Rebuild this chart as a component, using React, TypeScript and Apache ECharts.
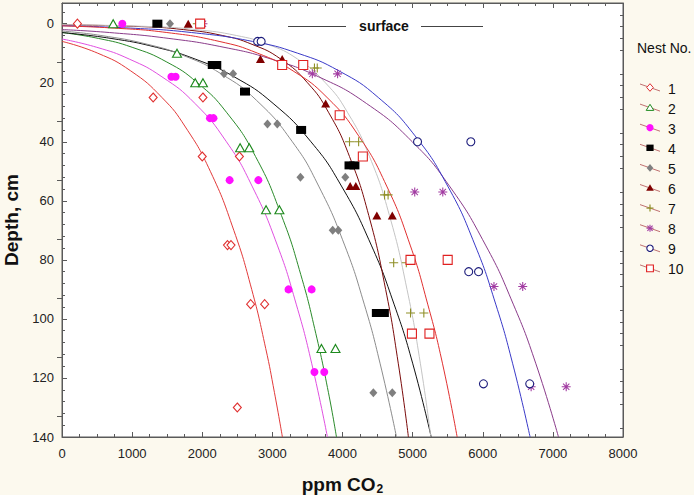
import React, { useEffect, useRef } from "react";
import * as echarts from "echarts";

const FONT = '"Liberation Sans", Arial, Helvetica, sans-serif';

const nestNames = ["1", "2", "3", "4", "5", "6", "7", "8", "9", "10"];
const lineColors = ["#e23a3a", "#2a8a2a", "#e050e0", "#111111", "#8c8c8c", "#7a0a0a", "#c4c4c4", "#8a3c8a", "#3a3ac8", "#e03030"];
const markerColors = ["#e03030", "#1e8a1e", "#ff10ff", "#000000", "#7f7f7f", "#800000", "#8f8f26", "#a23ca2", "#1c1c7c", "#e02020"];

// measured points (ppm CO2, depth cm)
const nest1Co2 = [220, 1300, 2010, 2000, 2530, 2360, 2410, 2690, 2890, 2500];
const nest1Depth = [0, 25, 25, 45, 45, 75, 75, 95, 95, 130];
const nest2Co2 = [730, 1640, 1900, 2010, 2540, 2670, 2910, 3100, 3700, 3900];
const nest2Depth = [0, 10, 20, 20, 42, 42, 63, 63, 110, 110];
const nest3Co2 = [860, 1560, 1620, 2110, 2160, 2390, 2800, 3230, 3560, 3600, 3740];
const nest3Depth = [0, 18, 18, 32, 32, 53, 53, 90, 90, 118, 118];
const nest4Co2 = [1360, 2150, 2200, 2610, 3410, 4100, 4170, 4490, 4590];
const nest4Depth = [0, 14, 14, 23, 36, 48, 48, 98, 98];
const nest5Co2 = [1540, 2310, 2440, 2930, 3070, 3400, 4040, 3860, 3940, 4440, 4710];
const nest5Depth = [0, 17, 17, 34, 34, 52, 52, 70, 70, 125, 125];
const nest6Co2 = [1800, 2830, 3140, 3760, 4110, 4190, 4490, 4710];
const nest6Depth = [0, 12, 12, 27, 55, 55, 65, 65];
const nest7Co2 = [1930, 3600, 3640, 4100, 4230, 4600, 4650, 4730, 4910, 4970, 5160];
const nest7Depth = [0, 15, 15, 40, 40, 58, 58, 81, 81, 98, 98];
const nest8Co2 = [2010, 3570, 3930, 5030, 5430, 6160, 6570, 6690, 7190];
const nest8Depth = [0, 17, 17, 57, 57, 89, 89, 123, 123];
const nest9Co2 = [2790, 2840, 5070, 5830, 5800, 5940, 6010, 6670];
const nest9Depth = [6, 6, 40, 40, 84, 84, 122, 122];
const nest10Co2 = [1970, 3140, 3440, 3960, 4290, 4970, 5500, 4990, 5240];
const nest10Depth = [0, 14, 14, 31, 45, 80, 80, 105, 105];

// fitted curves (ppm CO2, depth cm)
const curve1Co2 = [0, 510, 980, 1425, 1760, 2115, 2450, 2705, 2905, 3030, 3143];
const curve1Depth = [6, 10, 16, 25, 35, 50, 70, 90, 110, 125, 140];
const curve2Co2 = [0, 520, 1000, 1495, 1930, 2345, 2760, 3130, 3405, 3620, 3800, 3914];
const curve2Depth = [3, 5, 8, 13, 20, 30, 45, 65, 85, 105, 125, 140];
const curve3Co2 = [0, 495, 960, 1425, 1895, 2345, 2710, 3070, 3340, 3560, 3785];
const curve3Depth = [5.2, 8, 12, 18, 27, 40, 55, 75, 95, 115, 140];
const curve4Co2 = [0, 700, 1345, 1900, 2455, 3010, 3550, 3985, 4410, 4735, 5000, 5265];
const curve4Depth = [3, 5, 8, 12, 18, 27, 40, 55, 75, 95, 115, 140];
const curve5Co2 = [0, 555, 1220, 1755, 2270, 2775, 3285, 3660, 4030, 4310, 4535, 4770];
const curve5Depth = [2.5, 4, 7, 11, 17, 26, 40, 55, 75, 95, 115, 140];
const curve6Co2 = [0, 1130, 1730, 2285, 2710, 3120, 3500, 3800, 4100, 4375, 4615, 4795, 4940];
const curve6Depth = [0.4, 1, 2, 4, 7, 12, 20, 30, 45, 65, 90, 115, 140];
const curve7Co2 = [0, 1290, 1910, 2485, 2935, 3360, 3755, 4070, 4385, 4670, 4920, 5110, 5260];
const curve7Depth = [0.35, 1, 2, 4, 7, 12, 20, 30, 45, 65, 90, 115, 140];
const curve8Co2 = [0, 675, 1525, 2310, 2985, 3660, 4340, 4995, 5525, 6040, 6435, 6755, 7080];
const curve8Depth = [2, 3, 5, 8, 12, 18, 27, 40, 55, 75, 95, 115, 140];
const curve9Co2 = [0, 975, 1845, 2715, 3360, 3950, 4510, 5035, 5500, 5890, 6185, 6425, 6675];
const curve9Depth = [0.7, 1.5, 3, 6, 10, 16, 25, 38, 55, 75, 95, 115, 140];
const curve10Co2 = [0, 745, 1495, 2240, 2790, 3295, 3780, 4230, 4630, 4965, 5215, 5425, 5635];
const curve10Depth = [0.75, 1.5, 3, 6, 10, 16, 25, 38, 55, 75, 95, 115, 140];

const yTickLabels = [0, 20, 40, 60, 80, 100, 120, 140];
const rightMajorTicks = [13, 33, 53, 73, 93, 113, 133];

const pointsCo2 = [nest1Co2, nest2Co2, nest3Co2, nest4Co2, nest5Co2, nest6Co2, nest7Co2, nest8Co2, nest9Co2, nest10Co2];
const pointsDepth = [nest1Depth, nest2Depth, nest3Depth, nest4Depth, nest5Depth, nest6Depth, nest7Depth, nest8Depth, nest9Depth, nest10Depth];
const curvesCo2 = [curve1Co2, curve2Co2, curve3Co2, curve4Co2, curve5Co2, curve6Co2, curve7Co2, curve8Co2, curve9Co2, curve10Co2];
const curvesDepth = [curve1Depth, curve2Depth, curve3Depth, curve4Depth, curve5Depth, curve6Depth, curve7Depth, curve8Depth, curve9Depth, curve10Depth];

const PLUS = "path://M0,4.4 L10,4.4 L10,5.6 L0,5.6 Z M4.4,0 L5.6,0 L5.6,10 L4.4,10 Z";
const STAR = "path://M4.4,0 L5.6,0 L5.6,10 L4.4,10 Z M0,4.4 L10,4.4 L10,5.6 L0,5.6 Z M1.9,1.1 L8.9,8.1 L8.1,8.9 L1.1,1.9 Z M8.1,1.1 L8.9,1.9 L1.9,8.9 L1.1,8.1 Z";

const symbolDefs: any[] = [
  { symbol: "diamond", size: [8, 9], hollow: true },
  { symbol: "triangle", size: [9, 8], hollow: true },
  { symbol: "circle", size: 8, hollow: false },
  { symbol: "rect", size: [10, 8], hollow: false },
  { symbol: "diamond", size: [8, 9], hollow: false },
  { symbol: "triangle", size: [9, 8], hollow: false },
  { symbol: PLUS, size: 9, hollow: false },
  { symbol: STAR, size: 9, hollow: false },
  { symbol: "circle", size: 8, hollow: true },
  { symbol: "rect", size: 9, hollow: true },
];

function zip(a: number[], b: number[]) {
  return a.map((v, i) => [v, b[i]]);
}

function legendMarker(i: number, cx: number, cy: number): any[] {
  const c = markerColors[i];
  const r = 3.3;
  switch (i) {
    case 0:
      return [{ type: "polygon", shape: { points: [[cx, cy - r - 0.5], [cx + r, cy], [cx, cy + r + 0.5], [cx - r, cy]] }, style: { fill: "#fff", stroke: c, lineWidth: 1 } }];
    case 1:
      return [{ type: "polygon", shape: { points: [[cx, cy - r], [cx + r + 0.5, cy + r - 0.5], [cx - r - 0.5, cy + r - 0.5]] }, style: { fill: "#fff", stroke: c, lineWidth: 1 } }];
    case 2:
      return [{ type: "circle", shape: { cx, cy, r: 3.6 }, style: { fill: c } }];
    case 3:
      return [{ type: "rect", shape: { x: cx - 3.6, y: cy - 3.2, width: 7.2, height: 6.4 }, style: { fill: c } }];
    case 4:
      return [{ type: "polygon", shape: { points: [[cx, cy - r - 0.5], [cx + r, cy], [cx, cy + r + 0.5], [cx - r, cy]] }, style: { fill: c } }];
    case 5:
      return [{ type: "polygon", shape: { points: [[cx, cy - r - 0.5], [cx + r + 0.5, cy + r - 0.5], [cx - r - 0.5, cy + r - 0.5]] }, style: { fill: c } }];
    case 6:
      return [
        { type: "line", shape: { x1: cx - 3.5, y1: cy, x2: cx + 3.5, y2: cy }, style: { stroke: c, lineWidth: 1.2 } },
        { type: "line", shape: { x1: cx, y1: cy - 3.5, x2: cx, y2: cy + 3.5 }, style: { stroke: c, lineWidth: 1.2 } },
      ];
    case 7:
      return [
        { type: "line", shape: { x1: cx - 3.5, y1: cy, x2: cx + 3.5, y2: cy }, style: { stroke: c, lineWidth: 1.1 } },
        { type: "line", shape: { x1: cx, y1: cy - 3.5, x2: cx, y2: cy + 3.5 }, style: { stroke: c, lineWidth: 1.1 } },
        { type: "line", shape: { x1: cx - 2.6, y1: cy - 2.6, x2: cx + 2.6, y2: cy + 2.6 }, style: { stroke: c, lineWidth: 1.1 } },
        { type: "line", shape: { x1: cx + 2.6, y1: cy - 2.6, x2: cx - 2.6, y2: cy + 2.6 }, style: { stroke: c, lineWidth: 1.1 } },
      ];
    case 8:
      return [{ type: "circle", shape: { cx, cy, r: 3.2 }, style: { fill: "#fff", stroke: c, lineWidth: 1.1 } }];
    default:
      return [{ type: "rect", shape: { x: cx - 3.4, y: cy - 3.4, width: 6.8, height: 6.8 }, style: { fill: "#fff", stroke: c, lineWidth: 1.1 } }];
  }
}

export default function App() {
  const ref = useRef<HTMLDivElement>(null);

  useEffect(() => {
    document.body.style.margin = "0";
    if (!ref.current) return;
    const chart = echarts.init(ref.current, undefined, { renderer: "svg" });

    const leftMinor: number[] = [];
    for (let v = -4; v <= 140; v += 4) if (v % 20 !== 0) leftMinor.push(v);
    const rightMinor: number[] = [];
    for (let v = -3; v <= 140; v += 4) if ((v - 13) % 20 !== 0) rightMinor.push(v);

    const axisColor = "#5a5a5a";

    const lineSeries = curvesCo2.map((xs, i) => ({
      type: "line",
      name: "fit " + nestNames[i],
      data: zip(xs, curvesDepth[i]),
      smooth: 0.5,
      showSymbol: false,
      symbol: "none",
      lineStyle: { color: lineColors[i], width: 1 },
      z: 2,
      silent: true,
    }));

    const scatterSeries = pointsCo2.map((xs, i) => {
      const d = symbolDefs[i];
      return {
        type: "scatter",
        name: nestNames[i],
        data: zip(xs, pointsDepth[i]),
        symbol: d.symbol,
        symbolSize: d.size,
        itemStyle: d.hollow
          ? { color: "#ffffff", borderColor: markerColors[i], borderWidth: 1.1, opacity: 1 }
          : { color: markerColors[i], opacity: 1 },
        z: 5,
      };
    });

    const graphics: any[] = [
      { type: "line", shape: { x1: 288, y1: 26.5, x2: 346, y2: 26.5 }, style: { stroke: "#444", lineWidth: 1 } },
      { type: "line", shape: { x1: 421, y1: 26.5, x2: 483, y2: 26.5 }, style: { stroke: "#444", lineWidth: 1 } },
      {
        type: "text",
        x: 384,
        y: 26,
        style: { text: "surface", fill: "#111", font: `bold 14px ${FONT}`, align: "center", verticalAlign: "middle" },
      },
      {
        type: "text",
        x: 637,
        y: 48,
        style: { text: "Nest No.", fill: "#111", font: `14px ${FONT}`, align: "left", verticalAlign: "middle" },
      },
    ];
    nestNames.forEach((n, i) => {
      const cy = 87.5 + 20.1 * i;
      graphics.push({ type: "line", shape: { x1: 640, y1: cy - 3.5, x2: 660, y2: cy + 3.5 }, style: { stroke: "#c07070", lineWidth: 1 } });
      legendMarker(i, 650, cy).forEach((g) => graphics.push(g));
      graphics.push({
        type: "text",
        x: 668,
        y: cy + 1,
        style: { text: n, fill: "#111", font: `14px ${FONT}`, align: "left", verticalAlign: "middle" },
      });
    });

    const plain = (v: number) => String(v);

    const option: any = {
      animation: false,
      backgroundColor: "#fcf9ee",
      grid: {
        left: 62,
        right: 71,
        top: 3,
        bottom: 58,
        containLabel: false,
        outerBoundsMode: "none",
        show: true,
        backgroundColor: "#ffffff",
        borderColor: axisColor,
        borderWidth: 1,
      },
      xAxis: [
        {
          type: "value",
          min: 0,
          max: 8000,
          interval: 1000,
          position: "bottom",
          axisLine: { show: true, onZero: false, lineStyle: { color: axisColor } },
          axisTick: { show: true, inside: true, length: 5, lineStyle: { color: axisColor } },
          minorTick: { show: true, splitNumber: 4, length: 3, lineStyle: { color: axisColor } },
          splitLine: { show: false },
          minorSplitLine: { show: false },
          axisLabel: { color: "#222", fontSize: 13, fontFamily: FONT, margin: 10, formatter: plain },
          name: "{a|ppm CO}{b|2}",
          nameLocation: "middle",
          nameGap: 36,
          nameTextStyle: {
            rich: {
              a: { fontSize: 19, fontWeight: "bold", fontFamily: FONT, color: "#111" },
              b: { fontSize: 12, fontWeight: "bold", fontFamily: FONT, color: "#111", padding: [10, 0, 0, 1] },
            },
          },
        },
        {
          type: "value",
          min: 0,
          max: 8000,
          interval: 1000,
          position: "top",
          axisLine: { show: true, onZero: false, lineStyle: { color: axisColor } },
          axisTick: { show: true, inside: true, length: 5, lineStyle: { color: axisColor } },
          minorTick: { show: true, splitNumber: 4, length: 3, lineStyle: { color: axisColor } },
          splitLine: { show: false },
          axisLabel: { show: false },
        },
      ],
      yAxis: [
        {
          type: "value",
          inverse: true,
          min: -7,
          max: 140,
          position: "left",
          axisLine: { show: true, onZero: false, lineStyle: { color: axisColor } },
          axisTick: { show: true, inside: true, length: 5, customValues: yTickLabels, lineStyle: { color: axisColor } },
          axisLabel: { customValues: yTickLabels, color: "#222", fontSize: 13, fontFamily: FONT, margin: 8, formatter: plain },
          splitLine: { show: false },
          name: "Depth, cm",
          nameLocation: "middle",
          nameRotate: 90,
          nameGap: 41,
          nameTextStyle: { fontSize: 19, fontWeight: "bold", fontFamily: FONT, color: "#111" },
        },
        {
          type: "value",
          inverse: true,
          min: -7,
          max: 140,
          position: "left",
          axisLine: { show: false },
          axisTick: { show: true, inside: true, length: 3, customValues: leftMinor, lineStyle: { color: axisColor } },
          axisLabel: { show: false },
          splitLine: { show: false },
        },
        {
          type: "value",
          inverse: true,
          min: -7,
          max: 140,
          position: "right",
          axisLine: { show: true, onZero: false, lineStyle: { color: axisColor } },
          axisTick: { show: true, inside: true, length: 3, customValues: rightMinor, lineStyle: { color: axisColor } },
          axisLabel: { show: false },
          splitLine: { show: false },
        },
        {
          type: "value",
          inverse: true,
          min: -7,
          max: 140,
          position: "right",
          axisLine: { show: false },
          axisTick: { show: true, inside: true, length: 5, customValues: rightMajorTicks, lineStyle: { color: axisColor } },
          axisLabel: { show: false },
          splitLine: { show: false },
        },
      ],
      series: [...lineSeries, ...scatterSeries],
      graphic: graphics,
    };

    chart.setOption(option);
    return () => {
      chart.dispose();
    };
  }, []);

  return <div ref={ref} style={{ width: 694, height: 495 }} />;
}
